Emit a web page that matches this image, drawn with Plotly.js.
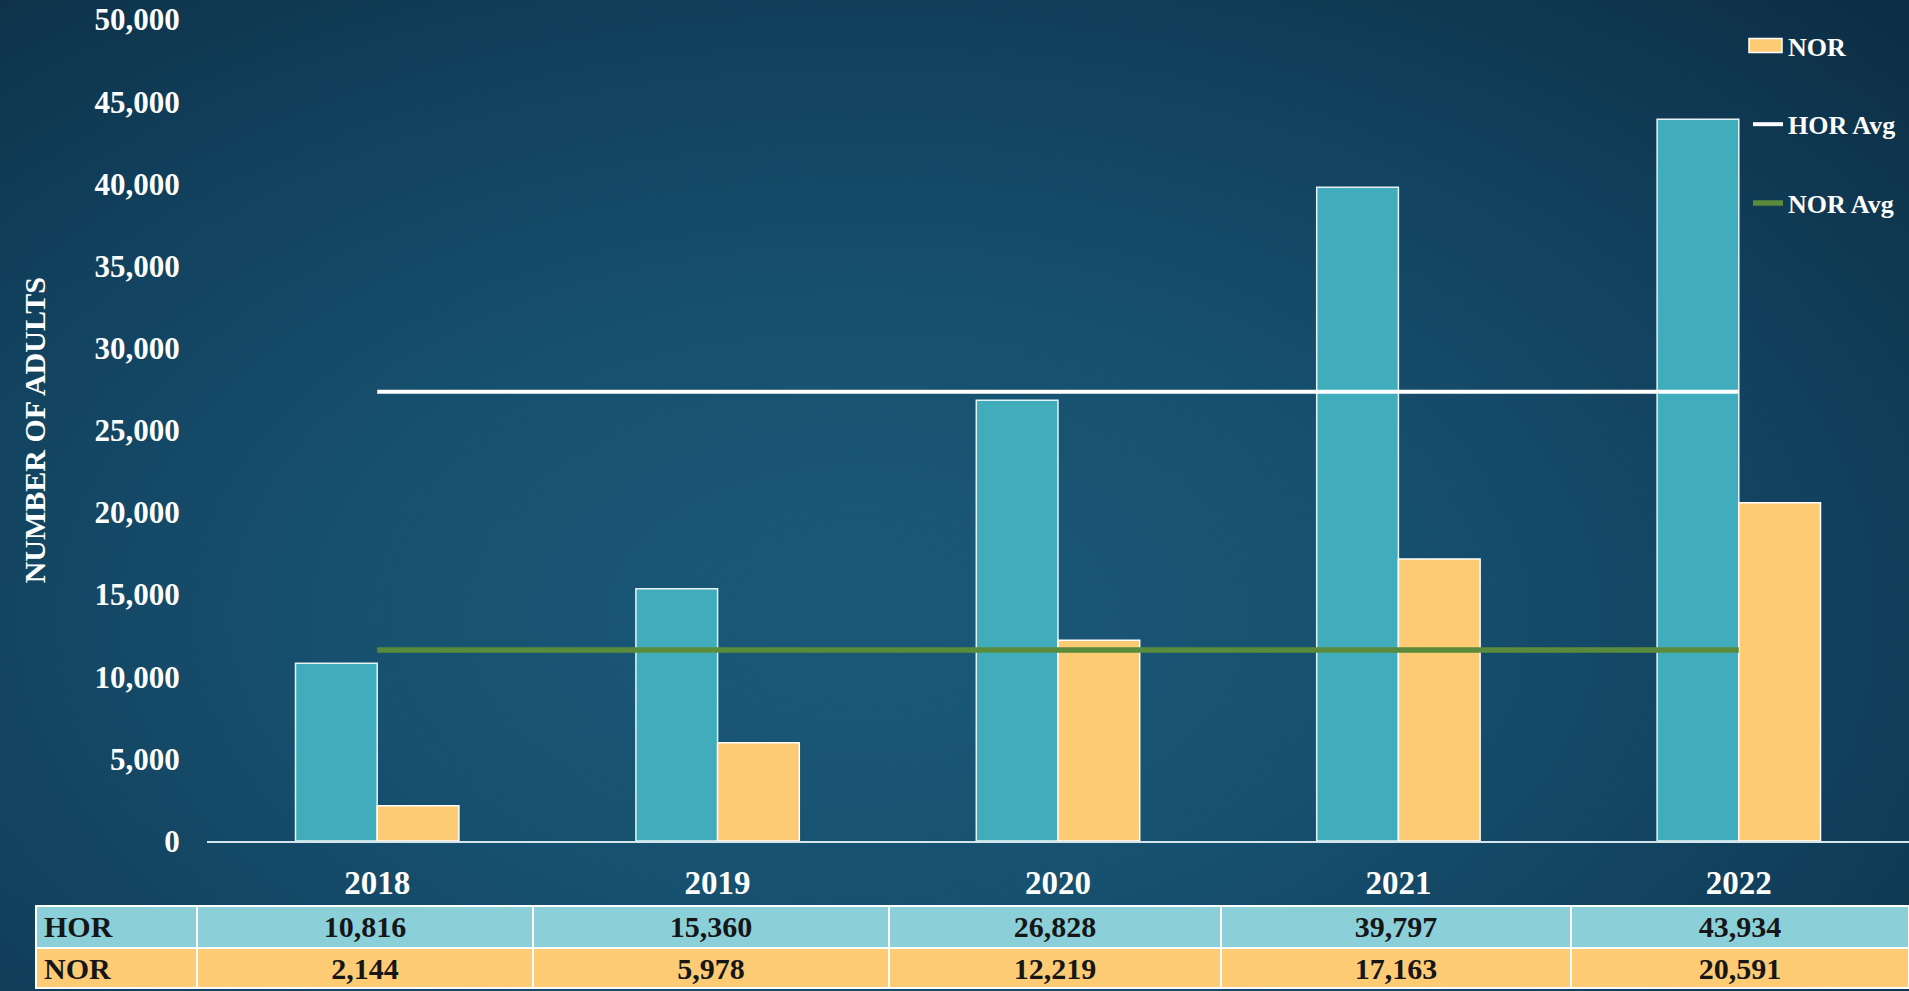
<!DOCTYPE html>
<html>
<head>
<meta charset="utf-8">
<script src="https://cdn.plot.ly/plotly-3.0.1.min.js"></script>
<style>
  html, body { margin: 0; padding: 0; width: 1909px; height: 991px; overflow: hidden; }
  body { background: radial-gradient(ellipse 75% 85% at 45% 62%, #1b5878 0%, #175170 35%, #11405c 70%, #0d2f46 100%); }
  #chart { width: 1909px; height: 991px; }
</style>
</head>
<body>
<div id="chart"></div>
<script>
const years = ['2018', '2019', '2020', '2021', '2022'];
const horValues = [10816, 15360, 26828, 39797, 43934];
const norValues = [2144, 5978, 12219, 17163, 20591];
const horAvg = [27347, 27347, 27347, 27347, 27347];
const norAvg = [11619, 11619, 11619, 11619, 11619];
const horLabels = ['10,816', '15,360', '26,828', '39,797', '43,934'];
const norLabels = ['2,144', '5,978', '12,219', '17,163', '20,591'];
const yTickVals = [0, 5000, 10000, 15000, 20000, 25000, 30000, 35000, 40000, 45000, 50000];

const FONT = 'Liberation Serif, DejaVu Serif, serif';
const W = 1909, H = 991;

const traces = [
  {
    type: 'bar', name: 'HOR', x: years, y: horValues,
    marker: { color: '#41adbc', line: { color: '#e6f3f5', width: 1.5 } },
    showlegend: false, legendgroup: 'a'
  },
  {
    type: 'bar', name: 'NOR', x: years, y: norValues,
    marker: { color: '#fccb74', line: { color: '#ffffff', width: 1.5 } },
    legendgroup: 'b'
  },
  {
    type: 'scatter', mode: 'lines', name: 'HOR Avg', x: years, y: horAvg,
    line: { color: '#ffffff', width: 4 }, legendgroup: 'c'
  },
  {
    type: 'scatter', mode: 'lines', name: 'NOR Avg', x: years, y: norAvg,
    line: { color: '#5a8b3c', width: 5.5 }, legendgroup: 'd'
  },
  {
    type: 'table',
    domain: { x: [36 / W, 1], y: [0, 85 / H] },
    columnwidth: [161, 336, 356, 332, 350, 338],
    header: {
      values: ['HOR'].concat(horLabels),
      fill: { color: '#8bcfd9' },
      line: { color: '#ffffff', width: 2 },
      align: ['left', 'center', 'center', 'center', 'center', 'center'],
      font: { family: FONT, size: 30, color: '#161616', weight: 'bold' },
      height: 42
    },
    cells: {
      values: [['NOR']].concat(norLabels.map(v => [v])),
      fill: { color: '#fccb74' },
      line: { color: '#ffffff', width: 2 },
      align: ['left', 'center', 'center', 'center', 'center', 'center'],
      font: { family: FONT, size: 30, color: '#161616', weight: 'bold' },
      height: 40
    }
  }
];

const layout = {
  width: W, height: H,
  margin: { l: 0, r: 0, t: 0, b: 0, autoexpand: false },
  paper_bgcolor: 'rgba(0,0,0,0)',
  plot_bgcolor: 'rgba(0,0,0,0)',
  barmode: 'group',
  bargap: 0.52,
  bargroupgap: 0,
  font: { family: FONT, color: '#ffffff', weight: 'bold' },
  xaxis: {
    type: 'category',
    domain: [207 / W, 1],
    showline: true, linecolor: '#d4e6ec', linewidth: 2,
    showgrid: false, zeroline: false,
    ticks: 'outside', ticklen: 11, tickcolor: 'rgba(0,0,0,0)',
    tickfont: { family: FONT, size: 33, color: '#ffffff', weight: 'bold' },
    fixedrange: true
  },
  yaxis: {
    domain: [(H - 841) / H, 1 - 19.5 / H],
    range: [0, 50000],
    tickvals: yTickVals,
    tickformat: ',d',
    showgrid: false, zeroline: false, showline: false,
    ticks: 'outside', ticklen: 20, tickcolor: 'rgba(0,0,0,0)',
    tickfont: { family: FONT, size: 31, color: '#ffffff', weight: 'bold' },
    title: {
      text: 'NUMBER OF ADULTS',
      font: { family: FONT, size: 30, color: '#ffffff', weight: 'bold' },
      standoff: 40
    },
    fixedrange: true
  },
  legend: {
    x: 1748 / W, xanchor: 'left',
    y: 1 - 22 / H, yanchor: 'top',
    bgcolor: 'rgba(0,0,0,0)',
    font: { family: FONT, size: 26, color: '#ffffff', weight: 'bold' },
    traceorder: 'grouped',
    tracegroupgap: 42,
    itemwidth: 30
  },
  showlegend: true
};

Plotly.newPlot('chart', traces, layout, { displayModeBar: false, staticPlot: true }).then(function () {
  // widen the bar legend swatch to a flat rectangle like the original
  document.querySelectorAll('.legend .legendpoints path.legendundefined, .legend .legendbar path').forEach(function (p) {
    p.setAttribute('d', 'M-19,7H14V-7H-19Z');
  });
});
</script>
</body>
</html>
